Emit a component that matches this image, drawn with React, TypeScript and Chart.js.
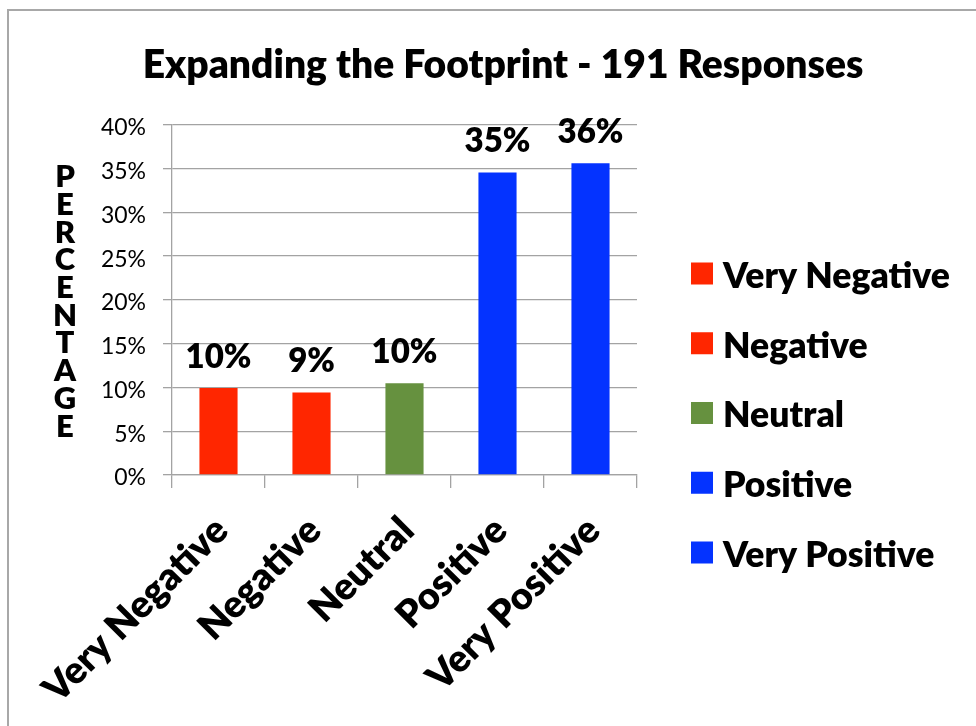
import React, { useEffect, useRef } from 'react';
import { Chart, registerables } from 'chart.js';

Chart.register(...registerables);

const TITLE = 'Expanding the Footprint - 191 Responses';
const Y_TITLE = 'PERCENTAGE';
const CATEGORIES = ['Very Negative', 'Negative', 'Neutral', 'Positive', 'Very Positive'];
const VALUES = [9.95, 9.42, 10.47, 34.55, 35.6];
const COLORS = ['#FF2600', '#FF2600', '#66913F', '#0433FF', '#0433FF'];
const Y_MIN = 0;
const Y_MAX = 40;
const Y_STEP = 5;

const FONT = 'Lato';
const BOLD = '800';
const GRID = '#a3a3a3';

const framePlugin = {
  id: 'frame',
  beforeDraw(chart: any) {
    const { ctx, width, height } = chart;
    ctx.save();
    ctx.fillStyle = '#ffffff';
    ctx.fillRect(0, 0, width, height);
    ctx.strokeStyle = '#a8a8a8';
    ctx.lineWidth = 2;
    ctx.strokeRect(8, 10, width + 50, height + 50);
    ctx.restore();
  },
};

const dataLabelPlugin = {
  id: 'dataLabels',
  afterDatasetsDraw(chart: any) {
    const { ctx } = chart;
    const meta = chart.getDatasetMeta(0);
    ctx.save();
    ctx.font = `${BOLD} 33px ${FONT}`;
    ctx.fillStyle = '#000';
    ctx.textAlign = 'center';
    ctx.textBaseline = 'middle';
    meta.data.forEach((bar: any, i: number) => {
      ctx.fillText(Math.round(VALUES[i]) + '%', bar.x, bar.y - 31);
    });
    ctx.restore();
  },
};

const yTitlePlugin = {
  id: 'yTitleStacked',
  afterDraw(chart: any) {
    const { ctx, chartArea } = chart;
    const letters = Y_TITLE.split('');
    const spacing = 27.7;
    const cx = chartArea.left - 107;
    const mid = (chartArea.top + chartArea.bottom) / 2;
    const start = mid - ((letters.length - 1) * spacing) / 2;
    ctx.save();
    ctx.font = `${BOLD} 31px ${FONT}`;
    ctx.fillStyle = '#000';
    ctx.textAlign = 'center';
    ctx.textBaseline = 'middle';
    letters.forEach((ch, i) => {
      ctx.fillText(ch, cx, start + i * spacing + 2);
    });
    ctx.restore();
  },
};

const legendPlugin = {
  id: 'sideLegend',
  afterDraw(chart: any) {
    const { ctx, chartArea } = chart;
    const boxX = chartArea.right + 54;
    const box = 22;
    const rowGap = 69.75;
    const firstY = chartArea.bottom - 62 - 2 * rowGap;
    ctx.save();
    ctx.font = `${BOLD} 35.5px ${FONT}`;
    ctx.textAlign = 'left';
    ctx.textBaseline = 'middle';
    CATEGORIES.forEach((label, i) => {
      const cy = firstY + i * rowGap;
      ctx.fillStyle = COLORS[i];
      ctx.fillRect(boxX, cy - box / 2, box, box);
      ctx.fillStyle = '#000';
      ctx.fillText(label, boxX + box + 10, cy + 3);
    });
    ctx.restore();
  },
};

export default function App() {
  const ref = useRef<HTMLCanvasElement | null>(null);

  useEffect(() => {
    if (!ref.current) return;
    Chart.defaults.font.family = FONT;
    const chart = new Chart(ref.current, {
      type: 'bar',
      data: {
        labels: CATEGORIES,
        datasets: [
          {
            data: VALUES,
            backgroundColor: COLORS,
            borderWidth: 0,
            barPercentage: 0.41,
            categoryPercentage: 1,
          },
        ],
      },
      options: {
        responsive: false,
        animation: false,
        devicePixelRatio: 1,
        layout: { padding: { left: 30, right: 0, top: 0, bottom: 0 } },
        plugins: {
          legend: { display: false },
          tooltip: { enabled: false },
          title: {
            display: true,
            text: TITLE,
            color: '#000',
            font: { family: FONT, size: 39, weight: BOLD, lineHeight: 1.2 },
            padding: { top: 42, bottom: 36 },
          },
        },
        scales: {
          x: {
            grid: {
              drawOnChartArea: false,
              drawTicks: true,
              tickLength: 13,
              offset: true,
              color: GRID,
              lineWidth: 1.3,
            },
            border: { display: true, color: GRID, width: 1.3 },
            ticks: {
              autoSkip: false,
              minRotation: 45,
              maxRotation: 45,
              padding: 20,
              labelOffset: 3,
              color: '#000',
              font: { family: FONT, size: 38, weight: BOLD },
            },
            afterFit(scale: any) {
              scale.height = 251;
              scale.paddingLeft = 0;
              scale.paddingRight = 0;
            },
          },
          y: {
            min: Y_MIN,
            max: Y_MAX,
            grid: { color: GRID, lineWidth: 1.3, tickLength: 9, drawTicks: true },
            border: { display: true, color: GRID, width: 1.3 },
            ticks: {
              stepSize: Y_STEP,
              padding: 17,
              labelOffset: 3,
              color: '#000',
              font: { family: FONT, size: 23 },
              callback: (v: any) => v + '%',
            },
            afterFit(scale: any) {
              scale.width = 142;
            },
          },
          legendSpace: {
            type: 'linear',
            position: 'right',
            display: true,
            grid: { display: false },
            border: { display: false },
            ticks: { display: false },
            afterFit(scale: any) {
              scale.width = 339;
            },
          },
        },
      } as any,
      plugins: [framePlugin, dataLabelPlugin, yTitlePlugin, legendPlugin],
    });
    return () => chart.destroy();
  }, []);

  return (
    <div style={{ position: 'fixed', left: 0, top: 0, width: 976, height: 726, background: '#fff' }}>
      <canvas ref={ref} width={976} height={726} />
    </div>
  );
}
